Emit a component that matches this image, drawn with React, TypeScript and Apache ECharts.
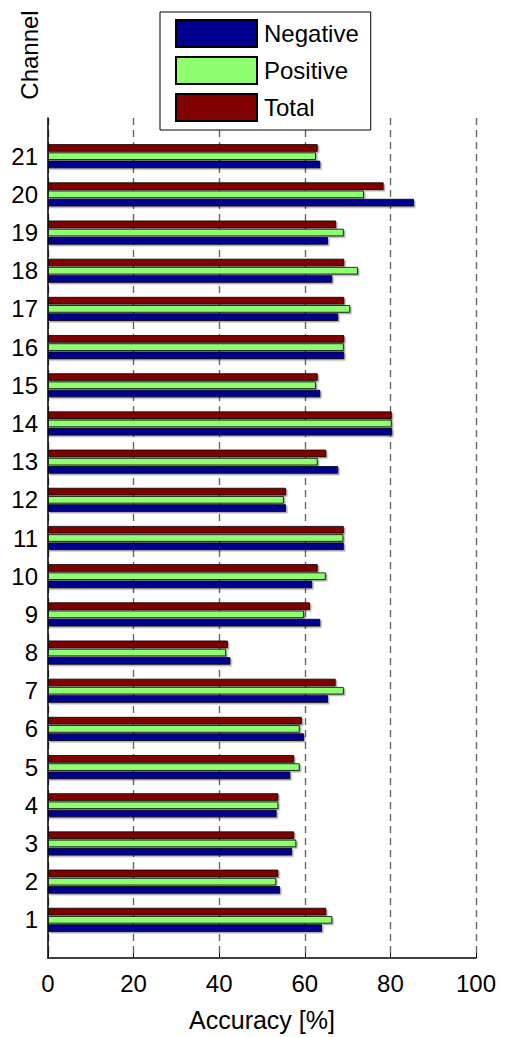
import React, { useEffect, useRef } from "react";
import * as echarts from "echarts";

// Per-channel classification accuracy (%)
const channels = ["1", "2", "3", "4", "5", "6", "7", "8", "9", "10", "11", "12", "13", "14", "15", "16", "17", "18", "19", "20", "21"];
const negative = [64.0, 54.2, 57.0, 53.4, 56.6, 59.8, 65.4, 42.6, 63.6, 61.7, 69.1, 55.6, 67.8, 80.4, 63.6, 69.2, 67.8, 66.4, 65.4, 85.5, 63.6];
const positive = [66.4, 53.3, 58.0, 53.8, 58.8, 58.8, 69.1, 41.6, 59.8, 64.9, 69.0, 55.1, 63.0, 80.3, 62.6, 69.1, 70.6, 72.4, 69.1, 73.8, 62.6];
const total = [65.0, 53.8, 57.5, 53.8, 57.5, 59.3, 67.2, 42.0, 61.2, 63.0, 69.1, 55.6, 65.0, 80.3, 63.0, 69.2, 69.2, 69.2, 67.3, 78.4, 63.0];
const xTicks = [0, 20, 40, 60, 80, 100];

const FONT = "'Liberation Sans', Arial, sans-serif";

// pad the channel axis with an empty slot at each end so ticks sit at 1..21 of 0..22
const padded = (arr: number[]) => ["-", ...arr, "-"];

export default function App() {
  const ref = useRef<HTMLDivElement>(null);

  useEffect(() => {
    if (!ref.current) return;
    const chart = echarts.init(ref.current, null, { renderer: "svg" });

    const barSeries = (name: string, data: number[], color: string) => ({
      name,
      type: "bar",
      data: padded(data),
      barWidth: 7.5,
      barGap: "10%",
      itemStyle: {
        color,
        borderColor: "#000",
        borderWidth: 0.8,
        shadowColor: "rgba(0,0,0,0.35)",
        shadowOffsetX: 1.5,
        shadowOffsetY: 1.5,
        shadowBlur: 0,
      },
    });

    chart.setOption({
      animation: false,
      backgroundColor: "#fff",
      textStyle: { fontFamily: FONT },
      grid: { left: 48, right: 29, top: 118, bottom: 72, containLabel: false },
      legend: {
        orient: "vertical",
        left: 160,
        top: 12,
        data: ["Negative", "Positive", "Total"],
        icon: "rect",
        itemWidth: 81,
        itemHeight: 27,
        itemGap: 8,
        padding: [7, 12, 8, 15],
        borderColor: "#000",
        borderWidth: 1,
        backgroundColor: "#fff",
        textStyle: { fontFamily: FONT, fontSize: 24, color: "#000", padding: [0, 0, 0, 2] },
        z: 10,
      },
      xAxis: {
        type: "value",
        min: 0,
        max: 100,
        interval: 20,
        name: "Accuracy [%]",
        nameLocation: "middle",
        nameGap: 49,
        nameTextStyle: { fontFamily: FONT, fontSize: 25, color: "#000" },
        axisLine: { show: true, lineStyle: { color: "#000", width: 1.5 } },
        axisTick: { show: true, inside: true, length: 5, lineStyle: { color: "#000" } },
        axisLabel: {
          fontFamily: FONT,
          fontSize: 24,
          color: "#000",
          margin: 13,
          formatter: (v: number) => (xTicks.includes(v) ? String(v) : ""),
        },
        splitLine: {
          show: true,
          lineStyle: { color: "#666", width: 1.4, type: [7, 5] },
        },
      },
      yAxis: {
        type: "category",
        data: ["", ...channels, ""],
        boundaryGap: false,
        axisLine: { show: true, lineStyle: { color: "#000", width: 1.5 } },
        axisTick: { show: false },
        axisLabel: { fontFamily: FONT, fontSize: 24, color: "#000", margin: 10, interval: 0 },
        splitLine: { show: false },
      },
      graphic: [
        {
          type: "text",
          x: 29,
          y: 55,
          rotation: Math.PI / 2,
          style: {
            text: "Channel",
            fontFamily: FONT,
            fontSize: 24,
            fill: "#000",
            align: "center",
            verticalAlign: "middle",
          },
        },
      ],
      series: [
        barSeries("Total", total, "#800000"),
        barSeries("Positive", positive, "#8FFF70"),
        barSeries("Negative", negative, "#000090"),
      ],
    });

    return () => chart.dispose();
  }, []);

  return (
    <div
      ref={ref}
      style={{ position: "fixed", left: 0, top: 0, width: 505, height: 1037 }}
    />
  );
}
